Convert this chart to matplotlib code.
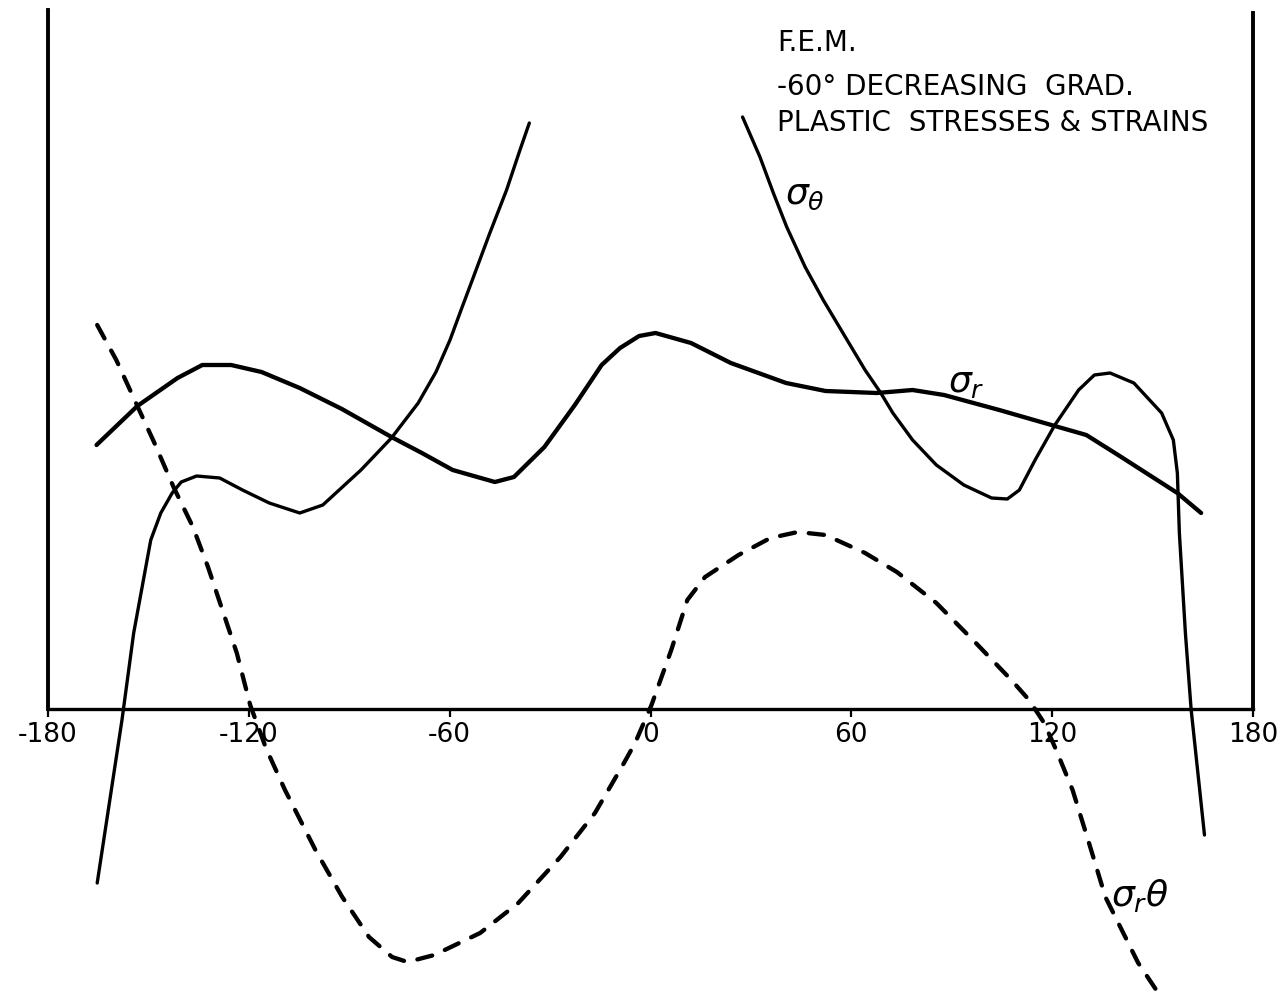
#Plot of the F.E.M. plastic stresses around the ring (-60 deg decreasing gradient)

import matplotlib.pyplot as plt

plt.rcParams['axes.unicode_minus'] = False
plt.rcParams['lines.scale_dashes'] = False

#angle (deg) and stress values read off for each curve
#sigma theta is drawn in two pieces, it runs off the top between them
theta_left_x = [-165.3, -157.9, -154.4, -149.3, -146.3, -142.9, -140.2, -135.6, -128.7, -121.9,
                -113.9, -104.8, -97.9, -86.5, -77.4, -69.4, -64.1, -59.9, -56.6, -52.9, -48.0,
                -43.0, -39.0, -36.2]
theta_left_y = [-17.4, -1.1, 7.6, 16.9, 19.6, 21.6, 22.7, 23.3, 23.1, 21.9,
                20.6, 19.6, 20.4, 23.9, 27.1, 30.6, 33.7, 36.9, 39.9, 43.2, 47.6,
                51.9, 55.9, 58.6]

theta_right_x = [27.5, 32.7, 36.7, 40.7, 46.2, 51.6, 58.2, 64.1, 68.8, 72.4, 78.3, 85.4, 93.6,
                 101.9, 106.6, 110.2, 114.9, 120.8, 127.9, 132.6, 137.3, 144.4, 152.7, 156.2,
                 157.4, 158.0, 159.8, 161.5, 165.5]
theta_right_y = [59.2, 55.2, 51.6, 48.2, 44.2, 40.9, 37.2, 33.9, 31.6, 29.6, 26.9, 24.4, 22.4,
                 21.1, 21.0, 21.9, 24.9, 28.4, 31.9, 33.4, 33.6, 32.6, 29.6, 26.9,
                 23.6, 17.6, 7.6, 0.0, -12.6]

radial_x = [-165.5, -153.3, -141.3, -133.9, -125.3, -116.2, -104.8, -92.2, -77.4, -68.3, -59.1,
            -46.5, -40.8, -31.7, -22.6, -14.6, -9.1, -3.4, 1.5, 12.1, 24.0, 40.5, 52.3, 67.6,
            78.3, 87.7, 104.2, 120.8, 130.2, 139.7, 157.4, 164.5]
radial_y = [26.4, 30.3, 33.1, 34.4, 34.4, 33.7, 32.1, 30.0, 27.2, 25.6, 23.9,
            22.7, 23.2, 26.2, 30.4, 34.4, 36.1, 37.3, 37.6, 36.6, 34.6, 32.6, 31.8, 31.6,
            31.9, 31.4, 29.9, 28.3, 27.4, 25.4, 21.6, 19.6]

shear_x = [-165.3, -159.6, -153.3, -148.2, -142.5, -136.7, -132.2, -127.6, -123.6, -119.6,
           -114.9, -109.2, -100.1, -92.1, -84.1, -77.2, -72.6, -64.6, -50.9, -39.5, -26.9,
           -16.6, -8.6, -4.6, 0.3, 6.2, 11.0, 16.3, 26.3, 35.8, 44.0, 52.3, 64.1, 73.6, 85.4,
           97.2, 107.8, 113.1, 117.6, 121.2, 126.1, 131.0, 135.9, 140.8, 145.7, 151.7]
shear_y = [38.4, 34.9, 30.3, 26.6, 22.2, 18.2, 14.2, 9.6, 5.6, 0.4,
           -3.9, -8.1, -14.1, -18.8, -22.8, -24.8, -25.3, -24.6, -22.4, -19.4, -14.8,
           -10.4, -5.8, -3.4, 0.4, 5.9, 10.9, 13.2, 15.4, 17.1, 17.7, 17.4, 15.6, 13.7, 10.6,
           6.6, 2.9, 0.9, -1.4, -4.1, -8.1, -13.4, -18.8, -22.1, -25.4, -28.4]

ticks = [-180, -120, -60, 0, 60, 120, 180]

fig = plt.figure(figsize=(12.83, 9.96), dpi=100)
ax = fig.add_axes([0, 0, 1, 1])
ax.set_xlim(-194.34, 188.96)
ax.set_ylim(-28.7, 70.9)

#curves
ax.plot(theta_left_x, theta_left_y, color='black', lw=2.4, solid_capstyle='round', solid_joinstyle='round')
ax.plot(theta_right_x, theta_right_y, color='black', lw=2.4, solid_capstyle='round', solid_joinstyle='round')
ax.plot(radial_x, radial_y, color='black', lw=3.1, solid_capstyle='round', solid_joinstyle='round')
ax.plot(shear_x, shear_y, color='black', lw=3.1, linestyle=(0, (11, 10)), dash_capstyle='round')

#frame: axis through zero and the two side lines
ax.spines['top'].set_visible(False)
ax.spines['bottom'].set_position(('data', 0))
ax.spines['bottom'].set_bounds(-180, 180)
ax.spines['left'].set_position(('data', -180))
ax.spines['left'].set_bounds(0, 69.9)
ax.spines['right'].set_position(('data', 180))
ax.spines['right'].set_bounds(0, 69.6)
ax.spines['bottom'].set_linewidth(2.4)
ax.spines['left'].set_linewidth(2.8)
ax.spines['right'].set_linewidth(2.8)
ax.set_yticks([])
ax.set_xticks(ticks)
ax.set_xticklabels([str(t) for t in ticks])
ax.tick_params(axis='x', direction='out', length=6, width=1.6, pad=3, labelsize=19)

#curve labels
ax.text(40.2, 51.4, r'$\sigma_\theta$', fontsize=26, ha='left', va='center')
ax.text(88.9, 32.6, r'$\sigma_r$', fontsize=26, ha='left', va='center')
ax.text(137.6, -18.6, r'$\sigma_r\theta$', fontsize=26, ha='left', va='center')

#title block
ax.text(37.8, 65.8, 'F.E.M.', fontsize=20, ha='left', va='baseline')
ax.text(37.8, 61.4, '-60° DECREASING  GRAD.', fontsize=20, ha='left', va='baseline')
ax.text(37.8, 57.8, 'PLASTIC  STRESSES & STRAINS', fontsize=20, ha='left', va='baseline')

plt.savefig('out.png', dpi=100)
